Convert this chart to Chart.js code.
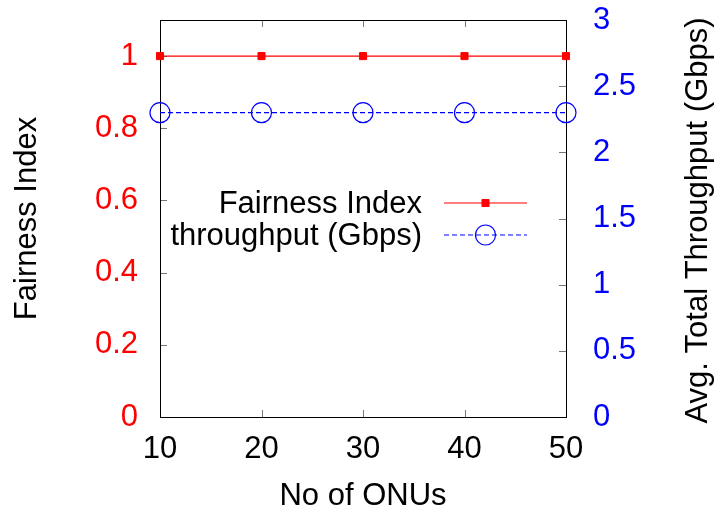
<!DOCTYPE html>
<html>
<head>
<meta charset="utf-8">
<title>Fairness Index</title>
<script src="https://cdn.jsdelivr.net/npm/chart.js@4/dist/chart.umd.min.js"></script>
<style>
body { margin: 0; background: #fff; }
canvas { display: block; }
</style>
</head>
<body>
<canvas id="chartCanvas" width="715" height="516"></canvas>
<script>
// data
var onus = [10, 20, 30, 40, 50];
var fairness = [1, 1, 1, 1, 1];
var throughput = [2.3, 2.3, 2.3, 2.3, 2.3];
var onuTicks = [10, 20, 30, 40, 50];
var fairTicks = [0, 0.2, 0.4, 0.6, 0.8, 1];
var gbpsTicks = [0, 0.5, 1, 1.5, 2, 2.5, 3];

var FONT = "'Liberation Sans', Arial, sans-serif";
var FSIZE = 31;
var RED = "#ff0000";
var BLUE = "#0000ff";

function toPoints(xs, ys) {
    return xs.map(function (x, i) { return {x: x, y: ys[i]}; });
}
function fixTicks(list) {
    return function (scale) {
        scale.ticks = list.map(function (v) { return {value: v}; });
    };
}
// plain numbers: 1 not 1.0
function plain(v) {
    return String(Math.round(v * 10) / 10);
}

// box + inward tick marks (gnuplot look)
var framePlugin = {
    id: "frame",
    beforeDatasetsDraw: function (chart) {
        var ctx = chart.ctx, a = chart.chartArea;
        var sx = chart.scales.x, sy = chart.scales.y, sy2 = chart.scales.y2;
        var len = 7;
        ctx.save();
        ctx.strokeStyle = "#777";
        ctx.lineWidth = 1;
        ctx.beginPath();
        sx.ticks.forEach(function (t) {
            var px = Math.round(sx.getPixelForValue(t.value)) + 0.5;
            ctx.moveTo(px, a.bottom); ctx.lineTo(px, a.bottom - len);
            ctx.moveTo(px, a.top); ctx.lineTo(px, a.top + len);
        });
        sy.ticks.forEach(function (t) {
            var py = Math.round(sy.getPixelForValue(t.value)) + 0.5;
            ctx.moveTo(a.left, py); ctx.lineTo(a.left + len, py);
        });
        sy2.ticks.forEach(function (t) {
            var py = Math.round(sy2.getPixelForValue(t.value)) + 0.5;
            ctx.moveTo(a.right, py); ctx.lineTo(a.right - len, py);
        });
        ctx.stroke();
        ctx.strokeStyle = "#000";
        ctx.strokeRect(Math.round(a.left) + 0.5, Math.round(a.top) + 0.5,
            Math.round(a.right - a.left), Math.round(a.bottom - a.top));
        ctx.restore();
    }
};

// key inside the plot, text right-aligned left of the sample
var keyRows = [
    {color: RED, dash: [], style: "rect", radius: 5, fill: RED, width: 1},
    {color: BLUE, dash: [5, 3], style: "circle", radius: 10, fill: "rgba(0,0,0,0)", width: 1.2}
];
var keyPlugin = {
    id: "key",
    afterDraw: function (chart) {
        var ctx = chart.ctx;
        var textRight = 422, x0 = 444, x1 = 527, rowY = [203, 235];
        chart.data.datasets.forEach(function (ds, i) {
            var k = keyRows[i], y = rowY[i];
            ctx.save();
            ctx.font = FSIZE + "px " + FONT;
            ctx.textAlign = "right";
            ctx.textBaseline = "middle";
            ctx.fillStyle = "#000";
            ctx.fillText(ds.label, textRight, y + 1);
            ctx.strokeStyle = k.color;
            ctx.lineWidth = 1.2;
            ctx.setLineDash(k.dash);
            ctx.beginPath();
            ctx.moveTo(x0, y);
            ctx.lineTo(x1, y);
            ctx.stroke();
            ctx.setLineDash([]);
            ctx.fillStyle = k.fill;
            ctx.strokeStyle = k.color;
            ctx.lineWidth = k.width;
            Chart.helpers.drawPoint(ctx, {pointStyle: k.style, radius: k.radius, borderWidth: k.width}, (x0 + x1) / 2, y);
            ctx.restore();
        });
    }
};

// right axis title reads bottom-to-top like the left one
var rightTitlePlugin = {
    id: "rightTitle",
    afterDraw: function (chart) {
        var ctx = chart.ctx, a = chart.chartArea;
        ctx.save();
        ctx.translate(707, (a.top + a.bottom) / 2 + 2);
        ctx.rotate(-Math.PI / 2);
        ctx.font = FSIZE + "px " + FONT;
        ctx.fillStyle = "#000";
        ctx.textAlign = "center";
        ctx.textBaseline = "alphabetic";
        ctx.fillText("Avg. Total Throughput (Gbps)", 0, 0);
        ctx.restore();
    }
};

var ctx = document.getElementById("chartCanvas").getContext("2d");
var chart = new Chart(ctx, {
    type: "line",
    data: {
        datasets: [{
            label: "Fairness Index",
            data: toPoints(onus, fairness),
            yAxisID: "y",
            borderColor: RED,
            borderWidth: 1.2,
            pointStyle: "rect",
            pointRadius: 5,
            pointBackgroundColor: RED,
            pointBorderColor: RED,
            pointBorderWidth: 1,
            clip: false
        }, {
            label: "throughput (Gbps)",
            data: toPoints(onus, throughput),
            yAxisID: "y2",
            borderColor: BLUE,
            borderWidth: 1.2,
            borderDash: [5, 3],
            pointStyle: "circle",
            pointRadius: 10,
            pointBackgroundColor: "rgba(0,0,0,0)",
            pointBorderColor: BLUE,
            pointBorderWidth: 1.2,
            clip: false
        }]
    },
    options: {
        responsive: false,
        animation: false,
        devicePixelRatio: 1,
        layout: { padding: { top: 20, left: 0, right: 0, bottom: 0 } },
        plugins: {
            legend: { display: false },
            tooltip: { enabled: false }
        },
        scales: {
            x: {
                type: "linear",
                min: 10,
                max: 50,
                afterBuildTicks: fixTicks(onuTicks),
                afterFit: function (s) { s.height = 99; s.paddingLeft = 0; s.paddingRight = 0; },
                grid: { display: false, drawTicks: false },
                border: { display: false },
                ticks: { color: "#000", padding: 14, font: { family: FONT, size: FSIZE }, callback: plain },
                title: {
                    display: true,
                    text: "No of ONUs",
                    color: "#000",
                    font: { family: FONT, size: FSIZE },
                    padding: { top: 0, bottom: 1 }
                }
            },
            y: {
                position: "left",
                min: 0,
                max: 1.1,
                afterBuildTicks: fixTicks(fairTicks),
                afterFit: function (s) { s.width = 160; s.paddingTop = 0; s.paddingBottom = 0; },
                grid: { display: false, drawTicks: false },
                border: { display: false },
                ticks: { color: RED, padding: 22, font: { family: FONT, size: FSIZE }, callback: plain },
                title: {
                    display: true,
                    text: "Fairness Index",
                    color: "#000",
                    font: { family: FONT, size: FSIZE },
                    padding: { top: 9, bottom: 0 }
                }
            },
            y2: {
                position: "right",
                min: 0,
                max: 3,
                afterBuildTicks: fixTicks(gbpsTicks),
                afterFit: function (s) { s.width = 149; s.paddingTop = 0; s.paddingBottom = 0; },
                grid: { display: false, drawTicks: false },
                border: { display: false },
                ticks: { color: BLUE, padding: 27, font: { family: FONT, size: FSIZE }, callback: plain }
            }
        }
    },
    plugins: [framePlugin, keyPlugin, rightTitlePlugin]
});
</script>
</body>
</html>
